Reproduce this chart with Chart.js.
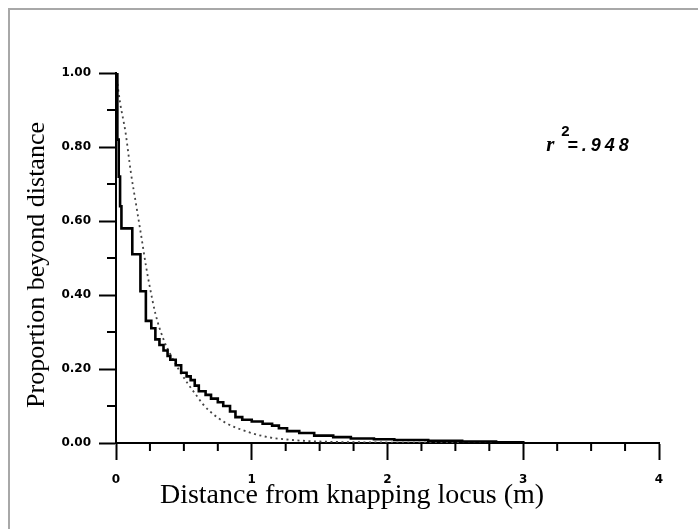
<!DOCTYPE html>
<html>
<head>
<meta charset="utf-8">
<script src="https://cdn.jsdelivr.net/npm/chart.js@4"></script>
<style>
  html, body { margin: 0; padding: 0; background: #fff; }
  #wrap { position: relative; width: 698px; height: 529px; overflow: hidden; }
  #frame { position: absolute; left: 8px; top: 8px; width: 720px; height: 560px; border: 2px solid #a8a8a8; box-sizing: border-box; pointer-events: none; }
  canvas { position: absolute; left: 0; top: 0; }
</style>
</head>
<body>
<div id="wrap">
  <canvas id="myChart" width="698" height="529"></canvas>
  <div id="frame"></div>
</div>
<script>
// observed proportion beyond distance (step curve)
const stepDist = [0, 0.01, 0.02, 0.03, 0.04, 0.12, 0.18, 0.22, 0.26, 0.29, 0.32, 0.35, 0.38, 0.40, 0.44, 0.48, 0.52, 0.55, 0.58, 0.61, 0.66, 0.70, 0.75, 0.79, 0.84, 0.88, 0.93, 1.00, 1.08, 1.15, 1.20, 1.26, 1.35, 1.46, 1.60, 1.73, 1.90, 2.05, 2.30, 2.55, 2.80, 3.00];
const stepProp = [1.00, 0.82, 0.72, 0.64, 0.58, 0.51, 0.41, 0.33, 0.31, 0.28, 0.265, 0.25, 0.235, 0.225, 0.21, 0.19, 0.18, 0.17, 0.155, 0.14, 0.13, 0.12, 0.11, 0.10, 0.085, 0.07, 0.063, 0.058, 0.052, 0.047, 0.04, 0.032, 0.027, 0.02, 0.016, 0.012, 0.01, 0.008, 0.006, 0.004, 0.002, 0.0];

// fitted curve (dotted)
const fitDist = [0, 0.03, 0.07, 0.11, 0.15, 0.19, 0.22, 0.25, 0.29, 0.35, 0.40, 0.46, 0.53, 0.60, 0.64, 0.70, 0.80, 0.94, 1.09, 1.27, 1.50, 1.80, 2.10, 2.50, 3.00];
const fitProp = [1.00, 0.92, 0.84, 0.73, 0.64, 0.55, 0.48, 0.42, 0.35, 0.28, 0.24, 0.20, 0.16, 0.125, 0.105, 0.083, 0.056, 0.034, 0.018, 0.009, 0.004, 0.002, 0.001, 0.0005, 0.0];

const xTicks = [0, 1, 2, 3, 4];
const xMinor = [0.25, 0.5, 0.75, 1.25, 1.5, 1.75, 2.25, 2.5, 2.75, 3.25, 3.5, 3.75];
const yTicks = [0, 0.2, 0.4, 0.6, 0.8, 1.0];
const yMinor = [0.1, 0.3, 0.5, 0.7, 0.9];

const xTitle = 'Distance from knapping locus (m)';
const yTitle = 'Proportion beyond distance';

const tickFont = {family: 'DejaVu Sans', size: 12, weight: 'bold'};

//Ticks menores, titulos y la anotacion r2
const extras = {
  id: 'extras',
  afterDraw(chart) {
    const {ctx, scales: {x, y}} = chart;
    ctx.save();
    ctx.strokeStyle = '#000';
    ctx.lineWidth = 2;
    ctx.beginPath();
    xMinor.forEach(v => {
      const px = x.getPixelForValue(v);
      ctx.moveTo(px, y.bottom);
      ctx.lineTo(px, y.bottom + 8);
    });
    yMinor.forEach(v => {
      const py = y.getPixelForValue(v);
      ctx.moveTo(x.left, py);
      ctx.lineTo(x.left - 9, py);
    });
    ctx.stroke();

    ctx.fillStyle = '#000';
    // titulos de los ejes
    ctx.textAlign = 'center';
    ctx.textBaseline = 'middle';
    ctx.font = '28px "Liberation Serif"';
    ctx.fillText(xTitle, 352, 496);
    ctx.save();
    ctx.translate(37, 265);
    ctx.rotate(-Math.PI / 2);
    ctx.font = '26px "Liberation Serif"';
    ctx.fillText(yTitle, 0, 0);
    ctx.restore();

    // r2
    const ax = x.getPixelForValue(3.17);
    const ay = y.getPixelForValue(0.79);
    ctx.textAlign = 'left';
    ctx.textBaseline = 'alphabetic';
    ctx.font = 'italic bold 21px "Liberation Serif"';
    ctx.fillText('r', ax, ay);
    ctx.font = 'bold 15px "Liberation Sans"';
    ctx.fillText('2', ax + 15, ay - 15);
    ctx.font = 'italic bold 18px "Liberation Sans"';
    ctx.letterSpacing = '4px';
    ctx.fillText('=.948', ax + 21, ay);
    ctx.restore();
  }
};

const ctx = document.getElementById('myChart');
const myChart = new Chart(ctx, {
  type: 'line',
  data: {
    datasets: [
      {
        label: 'Observed',
        data: stepDist.map((d, i) => ({x: d, y: stepProp[i]})),
        borderColor: '#000',
        borderWidth: 2.6,
        stepped: 'before',
        pointRadius: 0,
        fill: false,
      },
      {
        label: 'Fitted',
        data: fitDist.map((d, i) => ({x: d, y: fitProp[i]})),
        borderColor: '#444',
        borderWidth: 1.8,
        borderDash: [2, 3.5],
        cubicInterpolationMode: 'monotone',
        pointRadius: 0,
        fill: false,
      },
    ],
  },
  options: {
    responsive: false,
    animation: false,
    devicePixelRatio: 1,
    layout: {padding: {left: 0, top: 73, right: 39, bottom: 0}},
    plugins: {
      legend: {display: false},
      tooltip: {enabled: false},
    },
    scales: {
      x: {
        type: 'linear',
        min: 0,
        max: 4,
        afterBuildTicks: s => { s.ticks = xTicks.map(v => ({value: v})); },
        afterFit: s => { s.height = 86; },
        border: {display: true, color: '#000', width: 2},
        grid: {drawOnChartArea: false, tickLength: 17, tickWidth: 2, tickColor: '#000'},
        ticks: {color: '#000', font: tickFont, padding: 13, maxRotation: 0},
      },
      y: {
        min: 0,
        max: 1,
        afterBuildTicks: s => { s.ticks = yTicks.map(v => ({value: v})); },
        afterFit: s => { s.width = 116; },
        border: {display: true, color: '#000', width: 2},
        grid: {drawOnChartArea: false, tickLength: 17, tickWidth: 2, tickColor: '#000'},
        ticks: {color: '#000', font: tickFont, padding: 8, callback: v => v.toFixed(2)},
      },
    },
  },
  plugins: [extras],
});
</script>
</body>
</html>
